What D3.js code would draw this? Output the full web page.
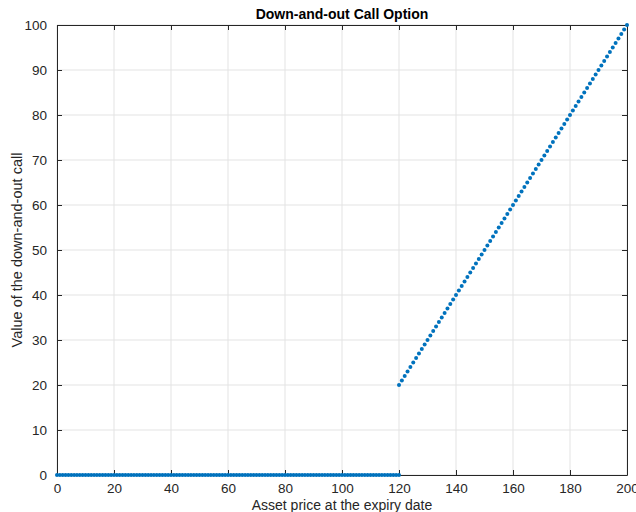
<!DOCTYPE html>
<html>
<head>
<meta charset="utf-8">
<script src="https://cdn.jsdelivr.net/npm/d3@7"></script>
<style>
  body { margin: 0; background: #fff; }
  svg { display: block; font-family: "Liberation Sans", Arial, Helvetica, sans-serif; }
</style>
</head>
<body>
<svg id="chart" width="636" height="512"></svg>
<script>
// Chart data
const xTicks = [0, 20, 40, 60, 80, 100, 120, 140, 160, 180, 200];
const yTicks = [0, 10, 20, 30, 40, 50, 60, 70, 80, 90, 100];

// knocked-out region: asset price below the barrier
const outPrice = [0,1,2,3,4,5,6,7,8,9,10,11,12,13,14,15,16,17,18,19,20,21,22,23,24,25,26,27,28,29,
  30,31,32,33,34,35,36,37,38,39,40,41,42,43,44,45,46,47,48,49,50,51,52,53,54,55,56,57,58,59,
  60,61,62,63,64,65,66,67,68,69,70,71,72,73,74,75,76,77,78,79,80,81,82,83,84,85,86,87,88,89,
  90,91,92,93,94,95,96,97,98,99,100,101,102,103,104,105,106,107,108,109,110,111,112,113,114,115,116,117,118,119,120];
const outValue = [0,0,0,0,0,0,0,0,0,0,0,0,0,0,0,0,0,0,0,0,0,0,0,0,0,0,0,0,0,0,
  0,0,0,0,0,0,0,0,0,0,0,0,0,0,0,0,0,0,0,0,0,0,0,0,0,0,0,0,0,0,
  0,0,0,0,0,0,0,0,0,0,0,0,0,0,0,0,0,0,0,0,0,0,0,0,0,0,0,0,0,0,
  0,0,0,0,0,0,0,0,0,0,0,0,0,0,0,0,0,0,0,0,0,0,0,0,0,0,0,0,0,0,0];

// alive region: asset price at or above the barrier
const inPrice = [120,121,122,123,124,125,126,127,128,129,130,131,132,133,134,135,136,137,138,139,
  140,141,142,143,144,145,146,147,148,149,150,151,152,153,154,155,156,157,158,159,
  160,161,162,163,164,165,166,167,168,169,170,171,172,173,174,175,176,177,178,179,
  180,181,182,183,184,185,186,187,188,189,190,191,192,193,194,195,196,197,198,199,200];
const inValue = [20,21,22,23,24,25,26,27,28,29,30,31,32,33,34,35,36,37,38,39,
  40,41,42,43,44,45,46,47,48,49,50,51,52,53,54,55,56,57,58,59,
  60,61,62,63,64,65,66,67,68,69,70,71,72,73,74,75,76,77,78,79,
  80,81,82,83,84,85,86,87,88,89,90,91,92,93,94,95,96,97,98,99,100];

const margin = { top: 25, right: 9, bottom: 37, left: 57 };
const width = 636, height = 512;
const innerW = width - margin.left - margin.right;
const innerH = height - margin.top - margin.bottom;
const axisColor = "#262626";

const svg = d3.select("#chart");
const g = svg.append("g").attr("transform", `translate(${margin.left},${margin.top})`);

const x = d3.scaleLinear().domain([0, 200]).range([0, innerW]);
const y = d3.scaleLinear().domain([0, 100]).range([innerH, 0]);

// grid
g.append("g").selectAll("line").data(xTicks).enter().append("line")
    .attr("x1", d => x(d)).attr("x2", d => x(d))
    .attr("y1", 0).attr("y2", innerH)
    .attr("stroke", "#e3e3e3").attr("stroke-width", 1);
g.append("g").selectAll("line").data(yTicks).enter().append("line")
    .attr("x1", 0).attr("x2", innerW)
    .attr("y1", d => y(d)).attr("y2", d => y(d))
    .attr("stroke", "#e3e3e3").attr("stroke-width", 1);

// axes (ticks pointing inward, MATLAB style)
function styleAxis(sel) {
    sel.select(".domain").attr("stroke", axisColor);
    sel.selectAll(".tick line").attr("stroke", axisColor);
    sel.selectAll(".tick text").attr("fill", axisColor).attr("font-size", "13.5px");
}

const xAxis = g.append("g").attr("transform", `translate(0,${innerH})`)
    .call(d3.axisBottom(x).tickValues(xTicks).tickSizeInner(-5).tickSizeOuter(0).tickPadding(8));
styleAxis(xAxis);

const yAxis = g.append("g")
    .call(d3.axisLeft(y).tickValues(yTicks).tickSizeInner(-5).tickSizeOuter(0).tickPadding(10));
styleAxis(yAxis);

const xTop = g.append("g")
    .call(d3.axisTop(x).tickValues(xTicks).tickSizeInner(-5).tickSizeOuter(0).tickFormat(""));
styleAxis(xTop);

const yRight = g.append("g").attr("transform", `translate(${innerW},0)`)
    .call(d3.axisRight(y).tickValues(yTicks).tickSizeInner(-5).tickSizeOuter(0).tickFormat(""));
styleAxis(yRight);

// markers
const markerColor = "#0072BD";
const outPts = outPrice.map((p, i) => ({ p: p, v: outValue[i] }));
const inPts = inPrice.map((p, i) => ({ p: p, v: inValue[i] }));

g.append("g").selectAll("circle").data(outPts.concat(inPts)).enter().append("circle")
    .attr("cx", d => x(d.p))
    .attr("cy", d => y(d.v))
    .attr("r", 2)
    .attr("fill", markerColor);

// title and labels
svg.append("text")
    .attr("x", margin.left + innerW / 2).attr("y", 19)
    .attr("text-anchor", "middle")
    .attr("font-size", "14px").attr("font-weight", "bold")
    .attr("fill", "#000")
    .text("Down-and-out Call Option");

svg.append("text")
    .attr("x", margin.left + innerW / 2).attr("y", 510)
    .attr("text-anchor", "middle")
    .attr("font-size", "14px")
    .attr("fill", axisColor)
    .text("Asset price at the expiry date");

svg.append("text")
    .attr("transform", `translate(22,${margin.top + innerH / 2}) rotate(-90)`)
    .attr("text-anchor", "middle")
    .attr("font-size", "14.5px")
    .attr("fill", axisColor)
    .text("Value of the down-and-out call");
</script>
</body>
</html>
